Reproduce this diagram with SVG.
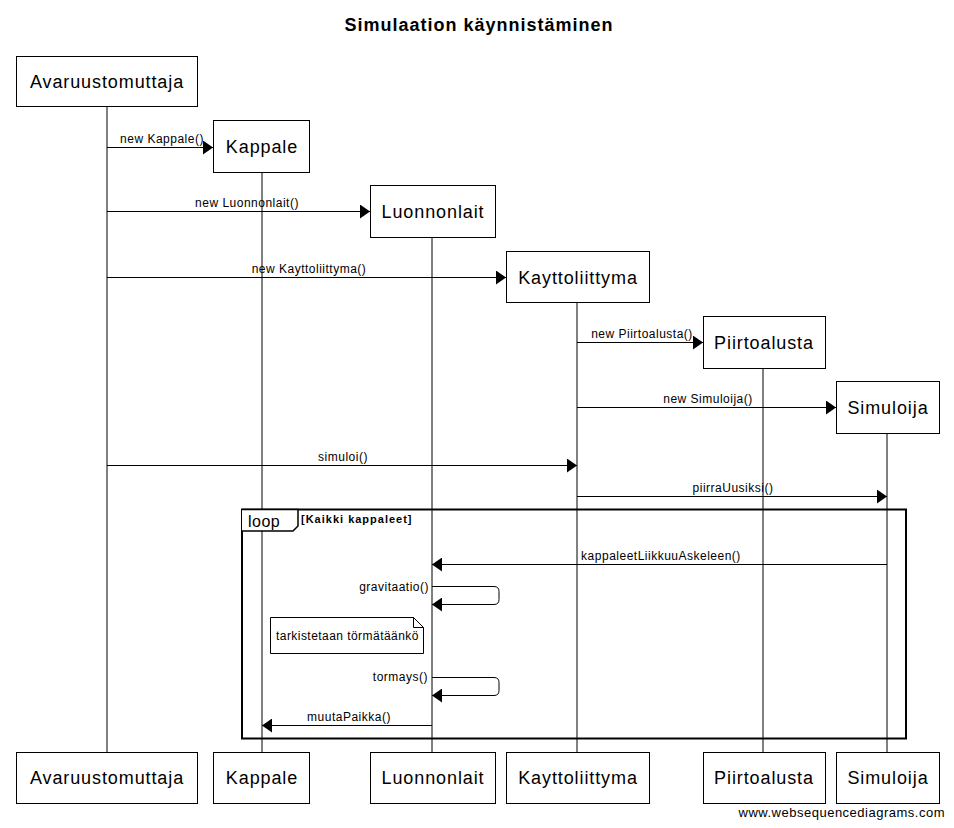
<svg xmlns="http://www.w3.org/2000/svg" width="954" height="828" viewBox="0 0 954 828">
<defs>
<marker id="ah" markerWidth="10" markerHeight="14" refX="10" refY="7" orient="auto" markerUnits="userSpaceOnUse">
<path d="M0,0 L10,7 L0,14 Z" fill="#000"/>
</marker>
<style>
.box{fill:#fff;stroke:#000;stroke-width:1}
.pt{font-family:"Liberation Sans",Arial,sans-serif;font-size:18px;letter-spacing:0.9px;text-anchor:middle;fill:#000}
.life{stroke:#000;stroke-width:1}
.msg{stroke:#000;stroke-width:1;fill:none;marker-end:url(#ah)}
.ml{font-family:"Liberation Sans",Arial,sans-serif;font-size:12px;letter-spacing:0.5px;fill:#000;text-anchor:middle}
.mr{font-family:"Liberation Sans",Arial,sans-serif;font-size:12px;letter-spacing:0.5px;fill:#000;text-anchor:end}
</style>
</defs>
<rect width="954" height="828" fill="#fff"/>
<text x="479" y="31" font-family="Liberation Sans,Arial,sans-serif" font-size="18" letter-spacing="1" font-weight="bold" text-anchor="middle">Simulaation käynnistäminen</text>

<g id="lifelines">
<line class="life" x1="107" y1="106" x2="107" y2="752"/>
<line class="life" x1="262" y1="173" x2="262" y2="752"/>
<line class="life" x1="432" y1="237" x2="432" y2="752"/>
<line class="life" x1="577" y1="302" x2="577" y2="752"/>
<line class="life" x1="763" y1="368" x2="763" y2="752"/>
<line class="life" x1="887" y1="433" x2="887" y2="752"/>
</g>

<g id="Avaruustomuttaja">
<rect class="box" x="16.5" y="56.5" width="181" height="50"/>
<text class="pt" x="107" y="88">Avaruustomuttaja</text>
<rect class="box" x="16.5" y="752.5" width="181" height="51"/>
<text class="pt" x="107" y="784">Avaruustomuttaja</text>
</g>
<g id="Kappale">
<rect class="box" x="213.5" y="120.5" width="96" height="52"/>
<text class="pt" x="262" y="153">Kappale</text>
<rect class="box" x="213.5" y="752.5" width="96" height="51"/>
<text class="pt" x="262" y="784">Kappale</text>
</g>
<g id="Luonnonlait">
<rect class="box" x="370.5" y="185.5" width="125" height="52"/>
<text class="pt" x="433" y="218">Luonnonlait</text>
<rect class="box" x="370.5" y="752.5" width="125" height="51"/>
<text class="pt" x="433" y="784">Luonnonlait</text>
</g>
<g id="Kayttoliittyma">
<rect class="box" x="506.5" y="251.5" width="143" height="51"/>
<text class="pt" x="578" y="284">Kayttoliittyma</text>
<rect class="box" x="506.5" y="752.5" width="143" height="51"/>
<text class="pt" x="578" y="784">Kayttoliittyma</text>
</g>
<g id="Piirtoalusta">
<rect class="box" x="703.5" y="316.5" width="122" height="52"/>
<text class="pt" x="764" y="349">Piirtoalusta</text>
<rect class="box" x="703.5" y="752.5" width="122" height="51"/>
<text class="pt" x="764" y="784">Piirtoalusta</text>
</g>
<g id="Simuloija">
<rect class="box" x="836.5" y="381.5" width="103" height="52"/>
<text class="pt" x="888" y="414">Simuloija</text>
<rect class="box" x="836.5" y="752.5" width="103" height="51"/>
<text class="pt" x="888" y="784">Simuloija</text>
</g>

<g id="loop">
<rect x="242" y="509.5" width="664" height="229" fill="none" stroke="#000" stroke-width="2"/>
<path d="M242,509.5 H298 V526 L293,531 H242" fill="#fff" stroke="#000" stroke-width="1.5"/>
<text x="248" y="527" font-family="Liberation Sans,Arial,sans-serif" font-size="16" letter-spacing="0.5">loop</text>
<text x="301" y="523" font-family="Liberation Sans,Arial,sans-serif" font-size="11" letter-spacing="1" font-weight="bold">[Kaikki kappaleet]</text>
</g>

<g id="note">
<path d="M270.5,617.5 H413.5 L423.5,627.5 V653.5 H270.5 Z" fill="#fff" stroke="#000" stroke-width="1"/>
<path d="M413.5,617.5 V627.5 H423.5" fill="none" stroke="#000" stroke-width="1"/>
<text x="276" y="640" font-family="Liberation Sans,Arial,sans-serif" font-size="12" letter-spacing="0.45">tarkistetaan törmätäänkö</text>
</g>

<g id="connectors">
<line class="msg" x1="107" y1="147.5" x2="213" y2="147.5"/>
<text class="ml" x="162" y="143">new Kappale()</text>
<line class="msg" x1="107" y1="211.5" x2="370" y2="211.5"/>
<text class="ml" x="247" y="207">new Luonnonlait()</text>
<line class="msg" x1="107" y1="277.5" x2="506" y2="277.5"/>
<text class="ml" x="309" y="273">new Kayttoliittyma()</text>
<line class="msg" x1="577" y1="342.5" x2="703" y2="342.5"/>
<text class="ml" x="642" y="338">new Piirtoalusta()</text>
<line class="msg" x1="577" y1="407.5" x2="836" y2="407.5"/>
<text class="ml" x="708" y="403">new Simuloija()</text>
<line class="msg" x1="107" y1="465.5" x2="577" y2="465.5"/>
<text class="ml" x="343" y="461">simuloi()</text>
<line class="msg" x1="577" y1="496.5" x2="887" y2="496.5"/>
<text class="ml" x="733" y="492">piirraUusiksi()</text>
<line class="msg" x1="887" y1="564.5" x2="432" y2="564.5"/>
<text class="ml" x="661" y="560">kappaleetLiikkuuAskeleen()</text>
<path class="msg" d="M432,586.5 H494 Q499,586.5 499,591.5 V599.5 Q499,604.5 494,604.5 H432"/>
<text class="mr" x="429" y="591">gravitaatio()</text>
<path class="msg" d="M432,677.5 H494 Q499,677.5 499,682.5 V690.5 Q499,695.5 494,695.5 H432"/>
<text class="mr" x="428" y="681">tormays()</text>
<line class="msg" x1="432" y1="725.5" x2="262" y2="725.5"/>
<text class="ml" x="349" y="721">muutaPaikka()</text>
</g>

<text x="945" y="817" font-family="Liberation Sans,Arial,sans-serif" font-size="13" letter-spacing="0.5" text-anchor="end">www.websequencediagrams.com</text>
</svg>
